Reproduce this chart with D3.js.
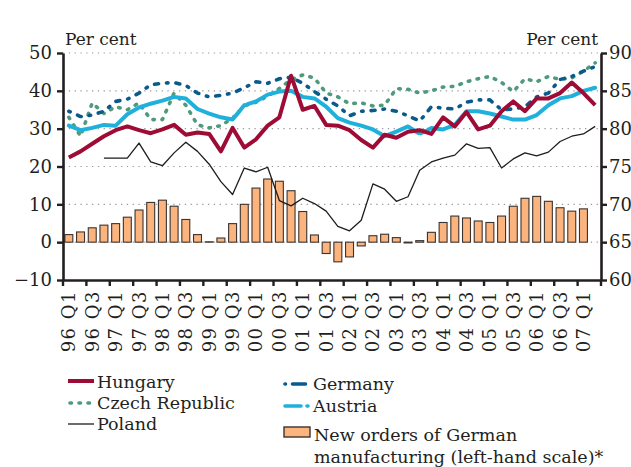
<!DOCTYPE html>
<html>
<head>
<meta charset="utf-8">
<script src="https://cdn.jsdelivr.net/npm/d3@7"></script>
<style>
  body { margin: 0; background: #fff; }
  text { font-family: "DejaVu Serif", serif; fill: #231f20; }
</style>
</head>
<body>
<div id="chart"></div>
<script>
// quarters 96 Q1 .. 07 Q2 (lines run one quarter longer than the bars)
const quarters = [
  "96 Q1","96 Q2","96 Q3","96 Q4","97 Q1","97 Q2","97 Q3","97 Q4",
  "98 Q1","98 Q2","98 Q3","98 Q4","99 Q1","99 Q2","99 Q3","99 Q4",
  "00 Q1","00 Q2","00 Q3","00 Q4","01 Q1","01 Q2","01 Q3","01 Q4",
  "02 Q1","02 Q2","02 Q3","02 Q4","03 Q1","03 Q2","03 Q3","03 Q4",
  "04 Q1","04 Q2","04 Q3","04 Q4","05 Q1","05 Q2","05 Q3","05 Q4",
  "06 Q1","06 Q2","06 Q3","06 Q4","07 Q1","07 Q2"
];

// capacity utilisation, per cent (right-hand scale)
const hungary = [76.2,77.0,78.0,79.0,79.8,80.3,79.8,79.4,79.9,80.5,79.2,79.5,79.3,77.0,80.1,77.5,
  78.6,80.4,81.5,87.0,82.5,83.0,80.5,80.4,79.8,78.5,77.5,79.2,78.8,79.6,79.8,79.3,
  81.5,80.3,82.2,79.9,80.4,82.3,83.6,82.3,84.0,84.0,84.7,86.1,84.7,83.1];
const czech = [81.5,79.0,83.4,82.0,82.9,82.5,83.4,81.2,81.2,84.7,83.1,80.5,80.1,80.4,81.4,83.0,
  83.5,84.3,85.3,86.5,87.1,86.7,84.7,84.2,83.3,83.4,83.0,83.1,85.3,85.2,84.7,85.0,
  85.5,85.6,86.2,86.6,86.9,86.1,84.9,86.6,86.2,86.9,86.5,86.7,87.6,88.7];
const poland = [null,null,null,76.1,76.1,76.1,78.1,75.6,75.1,76.8,78.2,77.0,75.3,73.0,71.3,74.8,
  74.3,74.9,70.5,69.8,70.8,70.1,69.1,67.1,66.5,67.9,72.7,72.0,70.4,71.0,74.5,75.6,
  76.1,76.5,78.0,77.4,77.5,74.8,76.0,76.8,76.4,76.9,78.3,79.0,79.3,80.3];
const germany = [82.3,81.6,81.8,82.3,83.6,83.9,84.7,85.8,86.0,86.1,85.7,84.7,84.2,84.4,84.7,85.4,
  86.2,86.0,86.6,86.8,86.0,84.9,83.9,83.0,81.7,82.3,82.4,82.6,82.3,81.7,81.0,82.9,
  82.7,82.6,83.5,83.8,83.8,82.5,82.6,82.9,84.2,84.7,86.5,86.9,87.6,88.2];
const austria = [80.4,79.8,80.1,80.5,80.4,81.9,82.8,83.3,83.7,84.2,84.0,82.6,82.0,81.5,81.2,83.1,
  83.6,84.5,84.9,85.0,84.2,84.0,82.9,81.4,80.8,80.4,79.9,79.0,79.6,80.3,79.3,80.1,
  79.9,80.5,82.3,82.3,82.0,81.6,81.2,81.2,81.8,83.1,84.0,84.3,85.0,85.4];

// new orders of German manufacturing, per cent (left-hand scale), 96 Q1 .. 07 Q1
const newOrders = [2.0,2.7,3.8,4.5,4.9,6.6,8.5,10.5,11.1,9.5,6.0,2.0,0.1,1.1,4.9,10.0,
  14.3,16.7,16.1,13.6,8.1,1.9,-3.0,-5.2,-3.9,-1.0,1.7,2.1,1.2,-0.2,0.4,2.6,
  5.2,6.9,6.4,5.6,5.2,6.9,9.5,11.6,12.1,10.8,9.1,8.2,8.8];

const leftTicks = [-10, 0, 10, 20, 30, 40, 50];
const rightTicks = [60, 65, 70, 75, 80, 85, 90];

const width = 631, height = 467;
const margin = { top: 53, right: 30, bottom: 187, left: 63 };

const svg = d3.select("#chart")
  .append("svg")
  .attr("width", width)
  .attr("height", height);

const x = d3.scaleBand()
  .domain(quarters)
  .range([margin.left, width - margin.right])
  .padding(0);

const yLeft = d3.scaleLinear()
  .domain([-10, 50])
  .range([height - margin.bottom, margin.top]);

const yRight = d3.scaleLinear()
  .domain([60, 90])
  .range([height - margin.bottom, margin.top]);

// dotted grid lines
svg.append("g")
  .selectAll("line")
  .data([0, 10, 20, 30, 40, 50])
  .join("line")
  .attr("x1", margin.left)
  .attr("x2", width - margin.right)
  .attr("y1", d => yLeft(d))
  .attr("y2", d => yLeft(d))
  .attr("stroke", "#9a9a9a")
  .attr("stroke-width", 1.2)
  .attr("stroke-dasharray", "1.3,4.5");

// bars
const barW = x.bandwidth() * 0.68;
svg.append("g")
  .selectAll("rect")
  .data(newOrders)
  .join("rect")
  .attr("x", (d, i) => x(quarters[i]) + (x.bandwidth() - barW) / 2)
  .attr("y", d => yLeft(Math.max(0, d)))
  .attr("width", barW)
  .attr("height", d => Math.abs(yLeft(d) - yLeft(0)))
  .attr("fill", "#fcb47f")
  .attr("stroke", "#3b3330")
  .attr("stroke-width", 1.1);

// lines
const line = d3.line()
  .defined(d => d != null)
  .x((d, i) => x(quarters[i]) + x.bandwidth() / 2)
  .y(d => yRight(d));

const series = [
  { values: poland,  color: "#1d1d1b", w: 1.3, dash: null },
  { values: czech,   color: "#4f9a7c", w: 3.6, dash: "1.5,7.5" },
  { values: germany, color: "#0a5b8c", w: 3.6, dash: "1.5,8,4,8" },
  { values: austria, color: "#1fb1dc", w: 4, dash: "190,3,5,3" },
  { values: hungary, color: "#9e0b35", w: 4, dash: null }
];

svg.append("g")
  .selectAll("path")
  .data(series)
  .join("path")
  .attr("d", d => line(d.values))
  .attr("fill", "none")
  .attr("stroke", d => d.color)
  .attr("stroke-width", d => d.w)
  .attr("stroke-dasharray", d => d.dash)
  .attr("stroke-linecap", d => d.dash ? "round" : "butt")
  .attr("stroke-linejoin", "round");

// axes
const styleAxis = g => {
  g.select(".domain").attr("stroke", "#231f20").attr("stroke-width", 2.6);
  g.selectAll(".tick line").attr("stroke", "#231f20").attr("stroke-width", 2.4);
  g.selectAll("text").style("font-size", "18px").attr("fill", "#231f20");
};

svg.append("g")
  .attr("transform", `translate(${margin.left},0)`)
  .call(d3.axisLeft(yLeft).tickValues(leftTicks).tickSize(6).tickSizeOuter(0).tickPadding(5))
  .call(styleAxis);

svg.append("g")
  .attr("transform", `translate(${width - margin.right},0)`)
  .call(d3.axisRight(yRight).tickValues(rightTicks).tickSize(6).tickSizeOuter(0).tickPadding(2))
  .call(styleAxis);

// bottom axis: labels every other quarter, ticks at band edges
const labelled = quarters.filter((q, i) => i % 2 === 0);
const xAxis = svg.append("g")
  .attr("transform", `translate(0,${height - margin.bottom})`)
  .call(d3.axisBottom(x).tickValues(labelled).tickSize(0).tickSizeOuter(0))
  .call(styleAxis);

xAxis.selectAll("text")
  .attr("transform", "rotate(-90)")
  .attr("x", -10)
  .attr("y", 0)
  .attr("dy", "0.36em")
  .attr("text-anchor", "end")
  .style("letter-spacing", "1.5px");

xAxis.selectAll(".tickmark")
  .data(labelled.concat(["end"]))
  .join("line")
  .attr("class", "tickmark")
  .attr("x1", d => d === "end" ? x.range()[1] : x(d))
  .attr("x2", d => d === "end" ? x.range()[1] : x(d))
  .attr("y1", 0)
  .attr("y2", 6)
  .attr("stroke", "#231f20")
  .attr("stroke-width", 2.4);

// units
svg.append("text")
  .attr("x", 65).attr("y", 45)
  .style("font-size", "17px")
  .text("Per cent");

svg.append("text")
  .attr("x", 598).attr("y", 45)
  .attr("text-anchor", "end")
  .style("font-size", "17px")
  .text("Per cent");

// legend
const legend = svg.append("g").style("font-size", "17.5px");

const legendLines = [
  { label: "Hungary",        color: "#9e0b35", w: 4,   dash: null,         x: 68,  y: 381, tx: 97,  ty: 388 },
  { label: "Czech Republic", color: "#4f9a7c", w: 3.6, dash: "1.5,7.5",    x: 70,  y: 403, tx: 97,  ty: 409 },
  { label: "Poland",         color: "#1d1d1b", w: 1.3, dash: null,         x: 68,  y: 424, tx: 97,  ty: 430 },
  { label: "Germany",        color: "#0a5b8c", w: 3.6, dash: "0.5,7,13,40", x: 285, y: 384, tx: 313, ty: 390 },
  { label: "Austria",        color: "#1fb1dc", w: 3.6, dash: "16,6,1,40", x: 285, y: 406, tx: 313, ty: 412 }
];

legendLines.forEach(d => {
  legend.append("line")
    .attr("x1", d.x).attr("x2", d.x + 26)
    .attr("y1", d.y).attr("y2", d.y)
    .attr("stroke", d.color)
    .attr("stroke-width", d.w)
    .attr("stroke-dasharray", d.dash)
    .attr("stroke-linecap", d.dash ? "round" : "butt");
  legend.append("text")
    .attr("x", d.tx).attr("y", d.ty)
    .text(d.label);
});

legend.append("rect")
  .attr("x", 284).attr("y", 427)
  .attr("width", 26).attr("height", 10)
  .attr("fill", "#fcb47f")
  .attr("stroke", "#3b3330")
  .attr("stroke-width", 1.4);

legend.append("text")
  .attr("x", 314).attr("y", 441)
  .text("New orders of German");

legend.append("text")
  .attr("x", 314).attr("y", 463)
  .text("manufacturing (left-hand scale)*");
</script>
</body>
</html>
